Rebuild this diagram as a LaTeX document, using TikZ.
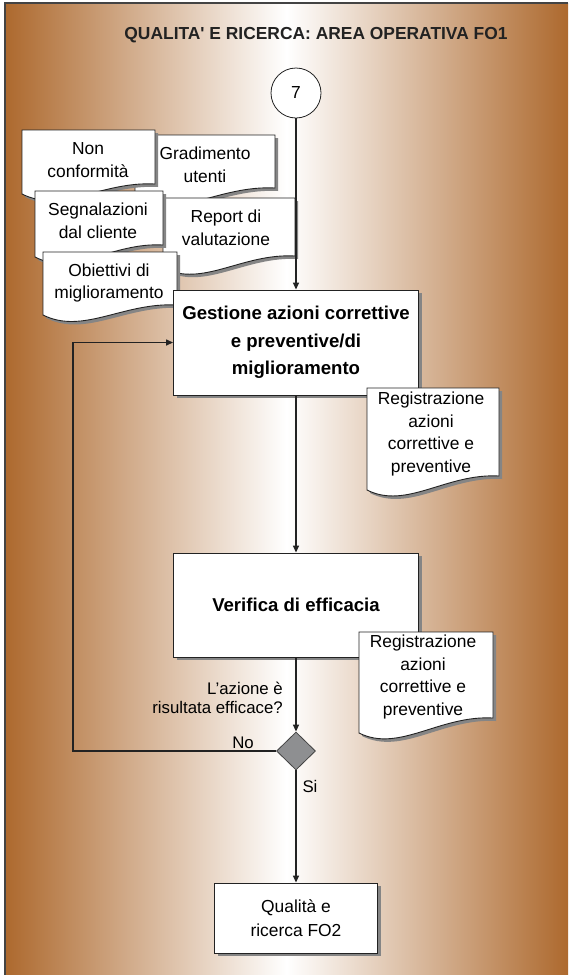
\documentclass[tikz,border=0pt]{standalone}
\usepackage{fontspec}
\setmainfont{Liberation Sans}[Ligatures=TeXOff]
\usetikzlibrary{arrows.meta,shapes.geometric,shadows}

\definecolor{edgebrown}{HTML}{AD692E}
\definecolor{ink}{HTML}{222222}
\definecolor{shadowgray}{HTML}{858585}
\definecolor{diamondgray}{HTML}{8E8F91}

\tikzset{
  flow/.style={draw=ink, line width=1.4pt, -{Triangle[length=7pt,width=6pt]}},
  procbox/.style={draw=ink, line width=0.9pt, fill=white, inner sep=0pt,
    align=center, font=\fontsize{18.6}{27.5}\selectfont\bfseries,
    drop shadow={shadow xshift=3pt, shadow yshift=-3pt, fill=shadowgray, opacity=1}},
  endbox/.style={procbox, font=\fontsize{17.4}{24}\selectfont},
  doctext/.style={inner sep=0pt, align=center, font=\fontsize{17.4}{22.5}\selectfont},
  labeltext/.style={inner sep=0pt, font=\fontsize{16.8}{19.5}\selectfont},
  docline/.style={draw=ink, line width=0.9pt, fill=white},
  decision/.style={diamond, draw=ink!85, line width=0.8pt, fill=diamondgray,
    minimum width=39pt, minimum height=38pt, inner sep=0pt},
  connector/.style={circle, draw=ink, line width=0.8pt, fill=white,
    minimum size=50pt, inner sep=0pt, font=\fontsize{17.4}{20}\selectfont},
}

% document sheet with a wavy lower edge and a grey shadow
% #1 left, #2 top, #3 right, #4 lower-left corner, #5 lower-right corner
\newcommand\docsheet[5]{%
  \fill[shadowgray, shift={(3,3)}] (#1,#2) -- (#3,#2) -- (#3,#5)
    .. controls ({#1+0.6*(#3-#1)},{#5-3}) and ({#1+0.3*(#3-#1)},{#4+20}) .. (#1,#4) -- cycle;
  \path[docline] (#1,#2) -- (#3,#2) -- (#3,#5)
    .. controls ({#1+0.6*(#3-#1)},{#5-3}) and ({#1+0.3*(#3-#1)},{#4+20}) .. (#1,#4) -- cycle;
}

\begin{document}
\begin{tikzpicture}[x=1pt, y=-1pt]
  \useasboundingbox (0,0) rectangle (568,975);

  % background panel
  \fill[white] (0,0) rectangle (568,975);
  \shade[left color=edgebrown, right color=edgebrown, middle color=white] (5,3) rectangle (568,975);
  \draw[ink!85, line width=1.2pt] (5,975) -- (5,3) -- (568,3);

  % title
  \node[inner sep=0pt, font=\fontsize{17.4}{20}\selectfont\bfseries, text=ink] (title) at (316,35)
    {QUALITA' E RICERCA: AREA OPERATIVA FO1};

  % entry connector
  \node[connector] (seven) at (296,93) {7};

  % input documents
  \docsheet{135}{135}{275}{200}{188}
  \node[doctext] (gradimento) at (205,165) {Gradimento\\utenti};
  \docsheet{163}{198}{295}{268}{256}
  \node[doctext] (report) at (226,228) {Report di\\valutazione};
  \docsheet{22}{130}{155}{194}{184}
  \node[doctext] (nonconf) at (88,160) {Non\\conformità};
  \docsheet{35}{191}{163}{257}{245}
  \node[doctext] (segnalazioni) at (98,221) {Segnalazioni\\dal cliente};
  \docsheet{43}{252}{177}{315}{305}
  \node[doctext] (obiettivi) at (109,283) {Obiettivi di\\miglioramento};

  % process steps
  \node[procbox, minimum width=245pt, minimum height=105pt] (gestione) at (296,342.5)
    {Gestione azioni correttive\\e preventive/di\\miglioramento};
  \node[procbox, minimum width=245pt, minimum height=104pt] (verifica) at (296,605)
    {Verifica di efficacia};
  \node[decision] (esito) at (296,751) {};
  \node[endbox, minimum width=163pt, minimum height=70pt] (fo2) at (296,918)
    {Qualità e\\ricerca FO2};

  % output records
  \docsheet{367}{388}{499}{490}{476}
  \node[doctext] (registro1) at (431,434) {Registrazione\\azioni\\correttive e\\preventive};
  \docsheet{359}{632}{493}{733}{718}
  \node[doctext] (registro2) at (423,677) {Registrazione\\azioni\\correttive e\\preventive};

  % flow
  \coordinate (loopturn) at (73,751);
  \draw[flow] (seven) -- (gestione);
  \draw[flow] (gestione) -- (verifica);
  \draw[flow] (verifica) -- (esito);
  \draw[flow] (esito) -- (fo2);
  \draw[flow] (esito.west) -- (loopturn) |- (gestione.west);

  % labels
  \node[labeltext, align=right, anchor=east] (domanda) at (283,698)
    {L’azione è\\risultata efficace?};
  \node[labeltext] (no) at (243,743) {No};
  \node[labeltext] (si) at (310,786) {Si};
\end{tikzpicture}
\end{document}
